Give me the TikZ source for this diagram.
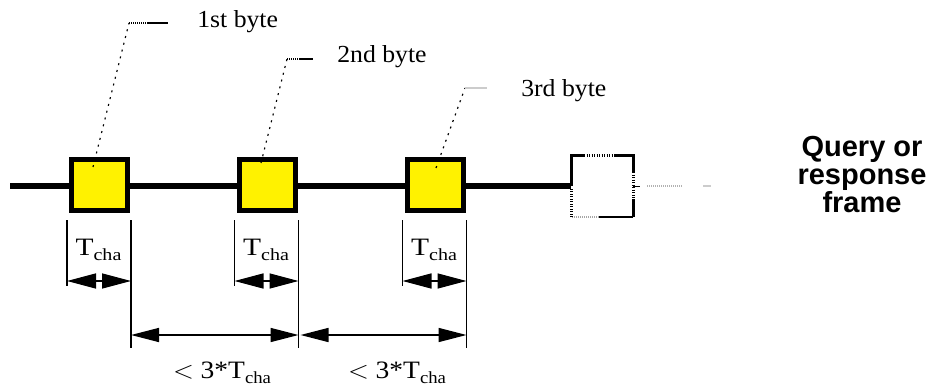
\documentclass[tikz,border=0pt]{standalone}
\usepackage{fontspec}
\setmainfont{Liberation Serif}
\newfontfamily\framefont{Liberation Sans}
\usetikzlibrary{calc, arrows.meta, positioning}

\newcommand{\Tcha}{T\raisebox{-5pt}{\fontsize{17}{17}\selectfont cha}}

\tikzset{
  busline/.style={line width=6pt},
  bytebox/.style={draw=black, fill=yellow, line width=5pt, minimum width=56pt, minimum height=51pt, inner sep=0pt},
  leader/.style={line width=1.2pt, dash pattern=on 2pt off 5pt},
  leadertail/.style={line width=1.6pt},
  dimline/.style={line width=1.5pt},
  tcharrow/.style={line width=1.5pt, {Triangle[length=29pt, width=15pt]}-{Triangle[length=29pt, width=15pt]}},
  gaparrow/.style={line width=1.5pt, {Triangle[length=28pt, width=14pt]}-{Triangle[length=28pt, width=14pt]}},
  timetext/.style={font=\fontsize{25}{28}\selectfont, inner sep=0pt, anchor=base},
  bytetext/.style={font=\fontsize{24.5}{28}\selectfont, inner sep=0pt, anchor=base west},
  frameline/.style={line width=3pt},
  framedots/.style={line width=3pt, dash pattern=on 1pt off 1.5pt},
  framelabel/.style={font=\framefont\bfseries\fontsize{29}{28}\selectfont, align=center, inner sep=0pt}
}

\begin{document}
\begin{tikzpicture}[x=1pt, y=-1pt, line width=0.6pt]
    \useasboundingbox (0,0) rectangle (937,385);

    % 1. Bus line
    \coordinate (start) at (10,186);
    \coordinate (rise) at (571,186);
    \draw[busline] (start) -- (rise);

    % 2. Byte boxes
    \node[bytebox] (b1) at (99.5,185) {};
    \node[bytebox] (b2) at (267,185) {};
    \node[bytebox] (b3) at (435,185) {};

    % 3. Leaders to the byte labels
    \node[bytetext] (l1) at (197,28) {\scalebox{1.05}[1]{1st byte}};
    \node[bytetext] (l2) at (337,63) {\scalebox{1.05}[1]{2nd byte}};
    \node[bytetext] (l3) at (521,97) {\scalebox{1.05}[1]{3rd byte}};

    \coordinate (p1) at ($(b1)+(-6.5,-18)$);
    \coordinate (c1) at (129,23);
    \coordinate (m1) at (148,23);
    \coordinate (e1) at (168,23);
    \coordinate (p2) at ($(b2)+(-6,-22)$);
    \coordinate (c2) at (287,59);
    \coordinate (m2) at (300,59);
    \coordinate (e2) at (313,59);
    \coordinate (p3) at ($(b3)+(1,-17)$);
    \coordinate (c3) at (465,88);
    \coordinate (e3) at (487,88);

    \draw[leader] (p1) -- (c1);
    \draw[leadertail, dash pattern=on 1pt off 1pt] (c1) -- (m1);
    \draw[leadertail] (m1) -- (e1);
    \draw[leader] (p2) -- (c2);
    \draw[leadertail, dash pattern=on 1pt off 1pt] (c2) -- (m2);
    \draw[leadertail] (m2) -- (e2);
    \draw[leader] (p3) -- (c3);
    \draw[leadertail, black!20] (c3) -- (e3);

    % 4. Character times
    \foreach \b in {b1,b2,b3} {
        \draw[dimline] ($(\b.south west)+(-2,7)$) coordinate (\b-l) -- ++(0,66);
        \draw[dimline] ($(\b.south east)+(1,7)$) coordinate (\b-r) -- ++(0,128);
        \draw[tcharrow] ($(\b-l)+(0,61)$) -- ($(\b-r)+(0,61)$);
        \node[timetext] (\b-t) at ($(\b.south)+(-1,42.5)$) {\scalebox{1.18}[1]{\Tcha}};
    }

    % 5. Gaps between characters
    \draw[gaparrow] ($(b1-r)+(0,115)$) -- ($(b2-r)+(0,115)$);
    \draw[gaparrow] ($(b2-r)+(2,115)$) -- ($(b3-r)+(0,115)$);
    \node[timetext] (g1) at (222,378) {\scalebox{1.1}[1]{$<$ 3*\Tcha}};
    \node[timetext] (g2) at (397,378) {\scalebox{1.1}[1]{$<$ 3*\Tcha}};

    % 6. Next frame
    \coordinate (ftl) at (571,156);
    \coordinate (ftr) at (633,156);
    \coordinate (fbr) at (633,217);
    \coordinate (fbl) at (571,217);
    \draw[frameline] (rise) -- (ftl) -- (584,156);
    \draw[framedots] (584,156) -- (615,156);
    \draw[frameline] (615,156) -- (ftr) -- (633,172);
    \draw[framedots] (633,172) -- (633,199);
    \draw[frameline] (633,199) -- (fbr);
    \draw[line width=1.3pt] (fbr) -- (599,217);
    \draw[line width=1.3pt, black!35, dash pattern=on 1pt off 1pt] (599,217) -- (fbl);
    \draw[framedots] (fbl) -- (571,189);
    \draw[line width=1pt] (633,186) -- (640,186);
    \draw[line width=1.3pt, black!30, dash pattern=on 1pt off 1pt] (647,186) -- (682,186);
    \draw[line width=1.3pt, black!20] (703,186) -- (711,186);

    \node[framelabel] (qlabel) at (862,175) {Query or\\response\\frame};
\end{tikzpicture}
\end{document}
